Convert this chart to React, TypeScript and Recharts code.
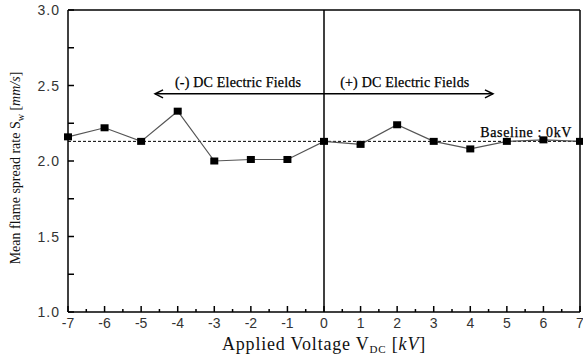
import { LineChart, Line, XAxis, YAxis, ReferenceLine, ReferenceDot } from 'recharts';

const voltages = [-7, -6, -5, -4, -3, -2, -1, 0, 1, 2, 3, 4, 5, 6, 7];
const spreadRates = [2.16, 2.22, 2.13, 2.33, 2.0, 2.01, 2.01, 2.13, 2.11, 2.24, 2.13, 2.08, 2.13, 2.14, 2.13];
const xTicks = [-7, -6.5, -6, -5.5, -5, -4.5, -4, -3.5, -3, -2.5, -2, -1.5, -1, -0.5, 0, 0.5, 1, 1.5, 2, 2.5, 3, 3.5, 4, 4.5, 5, 5.5, 6, 6.5, 7];
const yTicks = [1.0, 1.25, 1.5, 1.75, 2.0, 2.25, 2.5, 2.75, 3.0];
const baseline = 2.13;
const arrowSpan = [-4.62, 4.62];
const arrowLevel = 2.445;
const negLabel = '(-) DC Electric Fields';
const posLabel = '(+) DC Electric Fields';
const baselineLabel = 'Baseline : 0kV';

const data = voltages.map((v, i) => ({ v, s: spreadRates[i] }));

const sans = '"Liberation Sans", Arial, sans-serif';
const serif = '"Liberation Serif", "Times New Roman", serif';

function XTick({ x, y, payload }: any) {
  const major = Number.isInteger(payload.value);
  return (
    <g>
      <line x1={x} x2={x} y1={y} y2={y - (major ? 6 : 3)} stroke="#000" strokeWidth={1.5} />
      {major && (
        <text x={x} y={y + 16} textAnchor="middle" style={{ fontFamily: sans, fontSize: 14 }} fill="#333">
          {payload.value}
        </text>
      )}
    </g>
  );
}

function YTick({ x, y, payload }: any) {
  const major = Math.abs(payload.value * 2 - Math.round(payload.value * 2)) < 1e-6;
  return (
    <g>
      <line x1={x} x2={x + 6} y1={y} y2={y} stroke="#000" strokeWidth={1.5} />
      {major && (
        <text x={x - 8} y={y + 5} textAnchor="end" style={{ fontFamily: sans, fontSize: 14, letterSpacing: 1 }} fill="#333">
          {payload.value.toFixed(1)}
        </text>
      )}
    </g>
  );
}

function SquareDot({ cx, cy }: any) {
  return <rect x={cx - 4} y={cy - 3.5} width={8} height={7} fill="#000" />;
}

function DoubleArrow({ x1, y1, x2, y2 }: any) {
  return (
    <g stroke="#000" strokeWidth={1.5} fill="none">
      <line x1={x1} y1={y1} x2={x2} y2={y2} />
      <polyline points={`${x1 + 8},${y1 - 4} ${x1},${y1} ${x1 + 8},${y1 + 4}`} />
      <polyline points={`${x2 - 8},${y2 - 4} ${x2},${y2} ${x2 - 8},${y2 + 4}`} />
    </g>
  );
}

function TextLabel(text: string, anchor: string, size: number, spacing: number) {
  return ({ viewBox }: any) => {
    const cx = viewBox.cx ?? viewBox.x + (viewBox.width || 0) / 2;
    const cy = viewBox.cy ?? viewBox.y + (viewBox.height || 0) / 2;
    return (
      <text x={cx} y={cy} textAnchor={anchor} fill="#000" stroke="#000" strokeWidth={0.25}
        style={{ fontFamily: serif, fontSize: size, letterSpacing: spacing }}>
        {text}
      </text>
    );
  };
}

function XLabel({ viewBox }: any) {
  const cx = viewBox.x + viewBox.width / 2;
  return (
    <text x={cx} y={viewBox.y + 38} textAnchor="middle" fill="#111" style={{ fontFamily: serif, fontSize: 18, letterSpacing: 0.8 }}>
      Applied Voltage V<tspan style={{ fontSize: 11 }} dy={3}>DC</tspan>
      <tspan dy={-3}> [</tspan><tspan style={{ fontStyle: 'italic' }}>kV</tspan>]
    </text>
  );
}

function YLabel({ viewBox }: any) {
  const cy = viewBox.y + viewBox.height / 2 + 7;
  const cx = 20;
  return (
    <text x={cx} y={cy} transform={`rotate(-90 ${cx} ${cy})`} textAnchor="middle" fill="#111"
      style={{ fontFamily: serif, fontSize: 14 }}>
      Mean flame spread rate S<tspan style={{ fontSize: 10 }} dy={4}>w</tspan>
      <tspan dy={-4}> [</tspan><tspan style={{ fontStyle: 'italic' }}>mm/s</tspan>]
    </text>
  );
}

export default function App() {
  return (
    <div style={{ position: 'absolute', left: 0, top: 0, background: '#fff' }}>
      <LineChart width={583} height={360} data={data} margin={{ top: 10, right: 3, bottom: 0, left: 0 }}>
        <XAxis dataKey="v" type="number" domain={[-7, 7]} ticks={xTicks} interval={0} height={48}
          tickSize={0} tickMargin={0} tick={<XTick />} stroke="#000" strokeWidth={1.5}
          label={{ content: (p: any) => <XLabel {...p} /> }} />
        <YAxis type="number" domain={[1, 3]} ticks={yTicks} interval={0} width={68}
          tickSize={0} tickMargin={0} tick={<YTick />} stroke="#000" strokeWidth={1.5}
          label={{ content: (p: any) => <YLabel {...p} /> }} />
        <ReferenceLine y={3} stroke="#000" strokeWidth={1.5} />
        <ReferenceLine x={7} stroke="#000" strokeWidth={1.5} />
        <ReferenceLine x={0} stroke="#000" strokeWidth={1.5} />
        <ReferenceLine y={baseline} stroke="#000" strokeWidth={1} strokeDasharray="3 2" />
        <ReferenceLine segment={[{ x: arrowSpan[0], y: arrowLevel }, { x: arrowSpan[1], y: arrowLevel }]}
          shape={(p: any) => <DoubleArrow {...p} />} />
        <ReferenceDot x={-2.35} y={2.49} r={0} fill="none" stroke="none"
          label={{ content: TextLabel(negLabel, 'middle', 14, 0.2) }} />
        <ReferenceDot x={2.21} y={2.49} r={0} fill="none" stroke="none"
          label={{ content: TextLabel(posLabel, 'middle', 14, 0.2) }} />
        <ReferenceDot x={6.78} y={2.157} r={0} fill="none" stroke="none"
          label={{ content: TextLabel(baselineLabel, 'end', 14, 0.6) }} />
        <Line dataKey="s" stroke="#555" strokeWidth={1.2} dot={<SquareDot />} isAnimationActive={false} />
      </LineChart>
    </div>
  );
}
